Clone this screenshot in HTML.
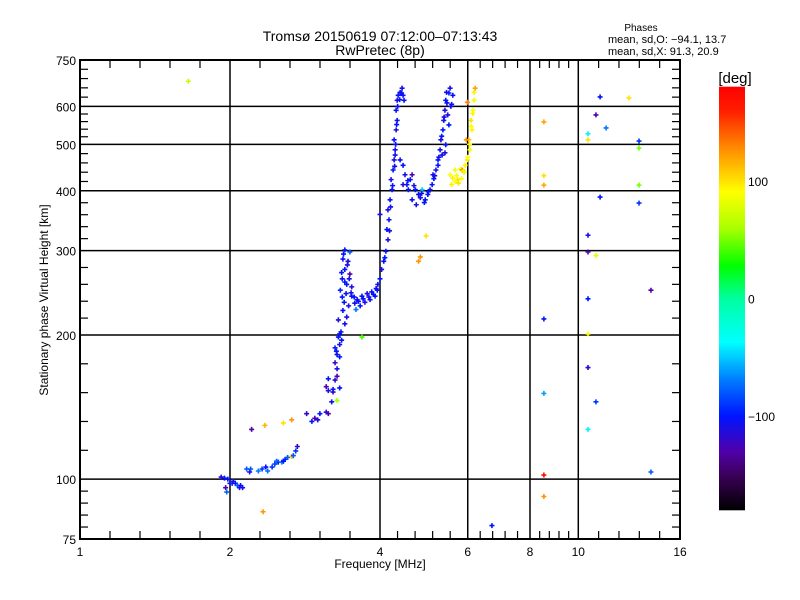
<!DOCTYPE html>
<html><head><meta charset="utf-8"><style>
body{margin:0;background:#fff;}
svg{display:block;font-family:"Liberation Sans",sans-serif;}
</style></head><body>
<svg id="c" width="800" height="600" viewBox="0 0 800 600">
<rect width="800" height="600" fill="#fff"/>
<text x="380" y="41" font-size="14" text-anchor="middle">Tromsø 20150619 07:12:00–07:13:43</text>
<text x="380" y="55" font-size="14" text-anchor="middle">RwPretec (8p)</text>
<text x="641" y="31" font-size="10" text-anchor="middle">Phases</text>
<text x="608" y="43" font-size="11">mean, sd,O: −94.1, 13.7</text>
<text x="608" y="55" font-size="11">mean, sd,X:  91.3, 20.9</text>
<text x="735" y="83" font-size="15" text-anchor="middle">[deg]</text>
<g id="grid"></g><g id="marks"></g><g id="axes"></g><g id="cbar"></g>
<text x="380" y="568" font-size="12" text-anchor="middle">Frequency [MHz]</text>
<text transform="translate(48,300) rotate(-90)" font-size="12" text-anchor="middle">Stationary phase Virtual Height [km]</text>
</svg>
<script>
const xTicks=[1,2,4,6,8,10,16];
const yTicks=[75,100,200,300,400,500,600,750];
const cbarTicks=[100,0,-100];
const freq=[1.92,1.95,1.98,2.0,2.02,2.05,2.07,2.09,2.12,1.96,1.97,
2.16,2.19,2.28,2.36,2.38,2.43,2.46,2.5,2.54,2.58,2.61,2.66,2.71,2.73,
2.85,2.92,2.96,3.0,3.03,3.12,3.15,3.2,3.28,3.22,3.15,3.12,3.22,3.32,3.25,3.28,3.15,3.28,3.25,3.32,3.28,3.32,3.25,3.3,3.32,
3.40,3.48,3.37,3.45,3.40,3.48,3.36,3.43,3.51,3.33,3.42,3.51,3.60,3.68,3.77,3.85,3.93,3.39,3.46,3.56,3.65,3.73,3.82,3.91,3.37,3.43,3.40,3.34,3.58,
3.96,4.0,4.03,4.07,4.11,4.15,4.13,4.17,4.15,4.19,4.23,4.21,4.25,4.27,4.29,4.27,4.31,4.33,4.31,4.33,4.35,4.39,4.43,4.45,4.47,
4.29,4.39,4.45,4.49,4.53,4.6,4.64,4.71,4.78,4.82,4.93,4.86,4.99,5.04,5.09,5.13,5.18,5.23,5.28,5.3,5.35,5.37,5.4,5.42,5.44,5.53,5.6,5.57,5.47,5.5,5.42,5.33,5.23,5.11,4.45,4.56,4.64,4.73,4.91,
5.53,5.66,5.57,5.73,5.83,5.9,5.93,5.99,6.06,6.03,6.12,6.09,6.15,6.18,6.18,6.21,5.8,5.66,5.85,5.96,5.99,
4.95,4.82,4.78,4.0,2.21,2.35,2.56,2.66,2.33,3.68,1.65,
11.06,12.64,8.53,10.85,11.37,10.46,10.46,13.24,13.24,8.53,8.53,13.24,11.06,13.24,10.46,10.46,10.85,13.99,10.46,8.53,10.46,10.46,8.53,10.85,10.46,13.99,8.53,8.53,6.71,
3.38,3.44,3.35,3.47,3.40,3.50,3.55,3.62,3.70,3.80,3.88,3.95,3.36,3.30,3.35,3.27,
4.09,4.18,4.2,4.24,4.28,4.3,4.32,4.34,4.38,4.42,
4.55,4.68,4.85,5.0,5.15,5.25,5.32,5.38,5.45,5.5,5.4,5.55,
5.6,5.7,5.75,5.88,6.0,6.05,6.1,6.14,
2.2,2.32,2.48,2.56,2.68,2.1,2.03];
const height=[101,100.5,100,98,98,98,97,96,96,96,94,
105,103.5,104,106,104,106,107.5,108.5,108.5,110,111,111.5,114.5,117,
137,132,134,133,137,138,137,145,146,152,153,156,154,155,161,164,162,170,175,180,182,191,188,198,201,
301,298,288,285,274,268,262,255,252,248,244,241,237,241,244,246,250,234,230,233,230,234,237,241,225,218,211,203,226,
255,262,274,285,299,316,332,348,365,383,402,422,442,464,487,511,536,561,589,618,633,642,655,633,618,
475,464,452,432,412,422,432,402,393,387,383,402,393,402,412,424,442,464,487,511,536,561,589,618,642,655,633,606,576,549,499,475,452,432,412,402,383,374,378,
432,442,412,422,424,437,452,464,487,511,536,561,589,618,642,655,444,418,442,511,612,
322,291,285,357,127,129.5,131,133,85.5,198,677,
628,625,557,576,541,526,511,508,491,430,411,411,388,377,323,298,293,248,238,216,201,171,151,145,127,103.5,102,92,80,
295,280,270,262,258,245,240,235,238,240,243,248,240,215,195,185,
290,330,370,410,450,500,550,600,620,640,
420,410,395,398,430,470,520,570,610,640,480,600,
425,430,415,440,470,500,545,580,
105,105,109,109,112,97,99];
const phase=[-110,-105,-100,-110,-95,-100,-80,-105,-110,-130,-75,
-80,-110,-70,-100,-75,-90,-85,-110,-70,-95,-80,110,-90,-120,
-120,-100,-130,-115,-100,-110,-130,-105,60,-120,-110,-130,-105,-100,-115,-130,-100,-110,-120,-100,-105,-110,-95,-100,-105,
-100,-80,-105,-110,-100,-130,-105,-100,-110,-95,-105,-100,-110,-105,-115,-100,-105,-100,-110,-105,-100,-110,-105,-100,-100,-110,-105,-100,-70,
-105,-100,-110,-100,-105,-110,-100,-105,-110,-100,-105,-110,-100,-110,-105,-100,-110,-105,-100,-110,-105,-100,-110,-105,-100,
-110,-105,-100,-110,-105,-100,-130,-100,-105,-110,-100,-50,-105,-110,-100,-105,-110,-100,-105,-110,-100,-105,-110,-100,-105,-110,-100,-105,-110,-100,-105,-110,-100,-105,-110,-100,-105,-110,-100,
90,85,95,100,90,80,95,100,90,110,95,100,90,85,95,120,85,90,130,125,130,
100,125,125,-110,-130,115,100,125,125,40,70,
-100,100,120,-130,-70,-40,100,-90,50,100,120,50,-100,-90,-110,-130,80,-130,-100,-100,90,-110,-60,-90,-40,-80,170,125,-100,
-100,-110,-100,-105,-100,-110,-100,-105,-100,-110,-100,-105,-100,-110,-100,-105,
-100,-110,-105,-100,-110,-105,-100,-110,-100,-105,
-100,-110,-105,-100,-110,-105,-100,-110,-105,-100,-110,-105,
95,90,100,95,90,95,90,95,
-80,-90,-75,-100,-80,-100,-110];

const X0=80,X1=680,Y0=60,Y1=539;
const lf=Math.log(1),lf1=Math.log(16),lh=Math.log(75),lh1=Math.log(750);
function xs(f){return X0+(Math.log(f)-lf)/(lf1-lf)*(X1-X0);}
function ys(h){return Y1-(Math.log(h)-lh)/(lh1-lh)*(Y1-Y0);}
const stops=[[-180,0,0,0],[-150,60,0,90],[-130,80,0,170],[-100,0,20,255],[-70,0,120,255],[-37,0,255,255],[0,0,255,160],[28,0,255,0],[60,170,255,0],[91,255,255,0],[128,255,140,0],[160,255,30,0],[180,255,0,0]];
function col(v){v=Math.max(-180,Math.min(180,v));for(let i=1;i<stops.length;i++){if(v<=stops[i][0]){const a=stops[i-1],b=stops[i],t=(v-a[0])/(b[0]-a[0]);return `rgb(${Math.round(a[1]+t*(b[1]-a[1]))},${Math.round(a[2]+t*(b[2]-a[2]))},${Math.round(a[3]+t*(b[3]-a[3]))})`;}}return 'rgb(255,0,0)';}
const NS='http://www.w3.org/2000/svg';
function mk(tag,attrs,parent){const e=document.createElementNS(NS,tag);for(const k in attrs)e.setAttribute(k,attrs[k]);parent.appendChild(e);return e;}
const grid=document.getElementById('grid'),axes=document.getElementById('axes'),marks=document.getElementById('marks'),cb=document.getElementById('cbar');
xTicks.forEach((t,i)=>{const x=xs(t);
 if(i>0&&i<xTicks.length-1){const l=mk('line',{x1:x,x2:x,y1:Y0,y2:Y1,stroke:'#000','stroke-width':1.5},grid);
 
 }
 const tx=mk('text',{x:x,y:556,'font-size':12,'text-anchor':'middle'},axes);tx.textContent=t;
 
 
 if(i<xTicks.length-1){const x2=xs(xTicks[i+1]);for(let k=1;k<5;k++){const xm=x+(x2-x)*k/5;
  mk('line',{x1:xm,x2:xm,y1:Y1,y2:Y1-8,stroke:'#000','stroke-width':1.2},axes);
  mk('line',{x1:xm,x2:xm,y1:Y0,y2:Y0+8,stroke:'#000','stroke-width':1.2},axes);}}
});
yTicks.forEach((t,i)=>{const y=ys(t);
 if(i>0&&i<yTicks.length-1){const l=mk('line',{x1:X0,x2:X1,y1:y,y2:y,stroke:'#000','stroke-width':1.5},grid);
 
 }
 const tx=mk('text',{x:76,y:y+5,'font-size':12,'text-anchor':'end'},axes);tx.textContent=t;
 
 
 if(i<yTicks.length-1){const y2=ys(yTicks[i+1]);for(let k=1;k<5;k++){const ym=y+(y2-y)*k/5;
  mk('line',{x1:X0,x2:X0+8,y1:ym,y2:ym,stroke:'#000','stroke-width':1.2},axes);
  mk('line',{x1:X1,x2:X1-8,y1:ym,y2:ym,stroke:'#000','stroke-width':1.2},axes);}}
});
const fr=mk('rect',{x:X0,y:Y0,width:X1-X0,height:Y1-Y0,fill:'none',stroke:'#000','stroke-width':2},axes);


for(let i=0;i<freq.length;i++){const x=xs(freq[i]),y=ys(height[i]);
 const p=mk('path',{d:`M${x-2.5},${y}H${x+2.5}M${x},${y-2.5}V${y+2.5}`,stroke:col(phase[i]),'stroke-width':1.6,fill:'none'},marks);
 
 }
const CT=87,CB=510,CX=719,CW=26;
function cy(v){return CB-(v+180)/360*(CB-CT);}
for(let v=-180;v<180;v+=2){mk('rect',{x:CX,y:cy(v+2)-0.3,width:CW,height:(CB-CT)*2/360+0.6,fill:col(v+1)},cb);}
const cbr=mk('rect',{x:CX,y:CT,width:CW,height:CB-CT,fill:'none',stroke:'none'},cb);


cbarTicks.forEach(t=>{const tx=mk('text',{x:748,y:cy(t)+5,'font-size':12},cb);tx.textContent=t===-100?'−100':t;
 
 });
</script>
</body></html>
